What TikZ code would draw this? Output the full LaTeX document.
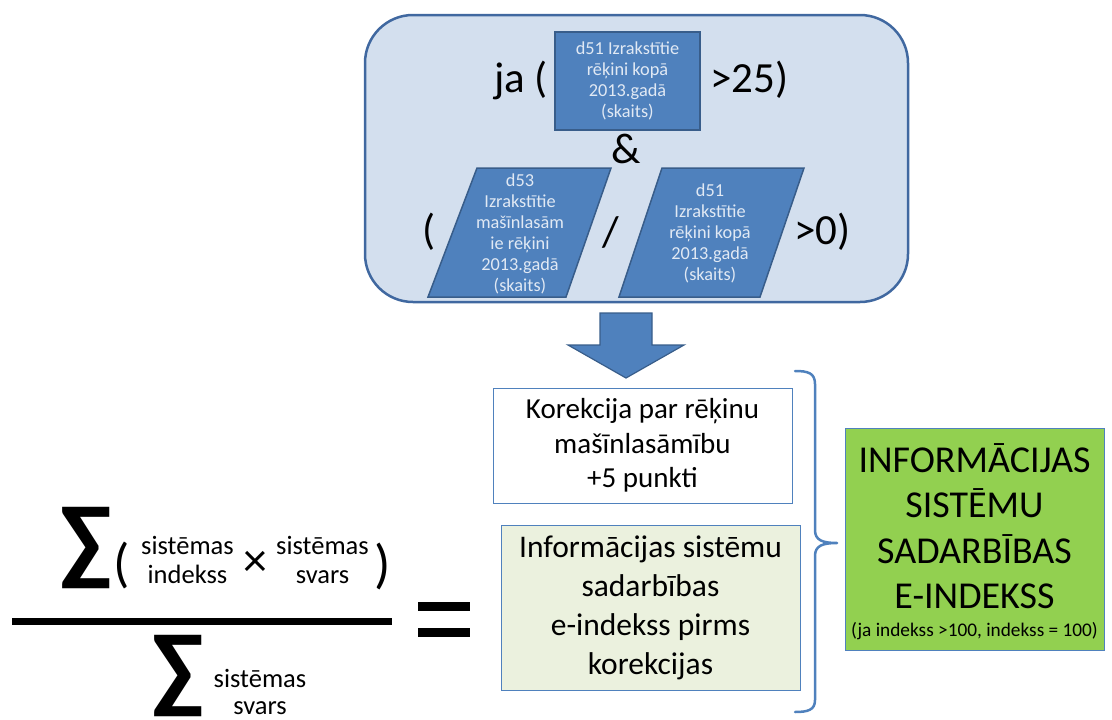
\documentclass[tikz,border=0pt]{standalone}
\usepackage{fontspec}
\setmainfont{Carlito}
\definecolor{panelfill}{RGB}{211,223,238}
\definecolor{paneldraw}{RGB}{64,104,160}
\definecolor{bluefill}{RGB}{79,129,189}
\definecolor{bluedraw}{RGB}{56,93,138}
\definecolor{bluetext}{RGB}{225,233,244}
\definecolor{beige}{RGB}{235,241,222}
\definecolor{greenfill}{RGB}{146,208,80}
\newcommand{\fs}[2]{\fontsize{#1}{#2}\selectfont}
\tikzset{
  panel/.style={fill=panelfill,draw=paneldraw,line width=2.5pt,rounded corners=48pt},
  bluebox/.style={fill=bluefill,draw=bluedraw,line width=1.5pt},
  smalltxt/.style={text=bluetext,align=center,font=\fs{18.3}{21}},
  bigtxt/.style={font=\fs{43}{43},inner sep=0pt},
  plainbox/.style={draw=bluefill,line width=1pt,align=center,inner sep=0pt},
  formtxt/.style={font=\fs{26.5}{29},align=center,inner sep=0pt},
  sigma/.style={font=\bfseries\fs{97}{97},inner sep=0pt,anchor=base},
}
\begin{document}
\begin{tikzpicture}[x=1pt,y=-1pt]
\useasboundingbox (0,0) rectangle (1112,720);
% panel
\draw[panel] (365,15) rectangle (908,302);
% top box
\node[bluebox,minimum width=145pt,minimum height=98pt,inner sep=0pt] (d51a) at (627.5,81) {};
\node[smalltxt] (d51at) at (627.5,81) {d51 Izrakstītie\\rēķini kopā\\2013.gadā\\(skaits)};
\node[bigtxt,anchor=east] (ja) at (548,80) {ja (};
\node[bigtxt,anchor=west] (gt25) at (710,80) {>25)};
\node[bigtxt] (amp) at (626,149) {\&};
% parallelograms
\coordinate (la) at (428,297); \coordinate (lb) at (477,168);
\coordinate (lc) at (611,168); \coordinate (ld) at (566,297);
\draw[bluebox] (la) -- (lb) -- (lc) -- (ld) -- cycle;
\node[smalltxt] (d53t) at (520,234) {d53\\Izrakstītie\\mašīnlasām\\ie rēķini\\2013.gadā\\(skaits)};
\coordinate (ra) at (619,297); \coordinate (rb) at (662,168);
\coordinate (rc) at (804,168); \coordinate (rd) at (760,297);
\draw[bluebox] (ra) -- (rb) -- (rc) -- (rd) -- cycle;
\node[smalltxt] (d51bt) at (710,233) {d51\\Izrakstītie\\rēķini kopā\\2013.gadā\\(skaits)};
\node[bigtxt] (lpar) at (429,232) {(};
\node[bigtxt] (slash) at (611,232) {/};
\node[bigtxt,anchor=west] (gt0) at (794,232) {>0)};
% down arrow
\draw[bluebox,line width=1.2pt] (600,313) -- (652,313) -- (652,345) -- (684,345) -- (626,378) -- (568,345) -- (600,345) -- cycle;
% boxes
\node[plainbox,fill=white,minimum width=299pt,minimum height=115pt,font=\fs{29}{34.5}] (kor) at (642.5,445.5) {Korekcija par rēķinu\\mašīnlasāmību\\+5 punkti};
\node[plainbox,fill=beige,minimum width=299pt,minimum height=165pt,font=\fs{31.5}{39}] (inf) at (650.5,607.5) {Informācijas sistēmu\\sadarbības\\e-indekss pirms\\korekcijas};
% brace
\draw[draw=bluefill,line width=2.5pt,line cap=round] (795,371) .. controls (808,371) and (815,373) .. (815,384) -- (815,530) .. controls (815,540) and (822,543) .. (837,543)
  (815,556) .. controls (815,546) and (822,543) .. (837,543)
  (815,556) -- (815,700) .. controls (815,710) and (808,712) .. (795,712);
% green box
\node[draw=bluefill,line width=0.8pt,fill=greenfill,minimum width=259pt,minimum height=222pt,inner sep=0pt] (res) at (974.5,539) {};
\node[align=center,font=\fs{38}{45.5},inner sep=0pt] (rest) at (974.5,526) {INFORMĀCIJAS\\SISTĒMU\\SADARBĪBAS\\E-INDEKSS};
\node[font=\fs{19.3}{20},inner sep=0pt] (rnote) at (974.5,631) {(ja indekss >100, indekss = 100)};
% formula
\node[sigma] (sig1) at (86,573) {∑};
\node[font=\fs{54}{54},inner sep=0pt] (p1) at (122,566) {(};
\node[formtxt] (si1) at (187.5,560) {sistēmas\\indekss};
\node[font=\fs{48}{48},inner sep=0pt] (times) at (255.5,564) {×};
\node[formtxt] (ss1) at (322.5,560) {sistēmas\\svars};
\node[font=\fs{54}{54},inner sep=0pt] (p2) at (383,566) {)};
\draw[line width=7pt] (12,621.5) -- (392,621.5);
\node[sigma] (sig2) at (178,701) {∑};
\node[formtxt,font=\fs{26.5}{27}] (ss2) at (260,692) {sistēmas\\svars};
\fill (418,602) rectangle (470,611);
\fill (418,628) rectangle (470,637);
\end{tikzpicture}
\end{document}
